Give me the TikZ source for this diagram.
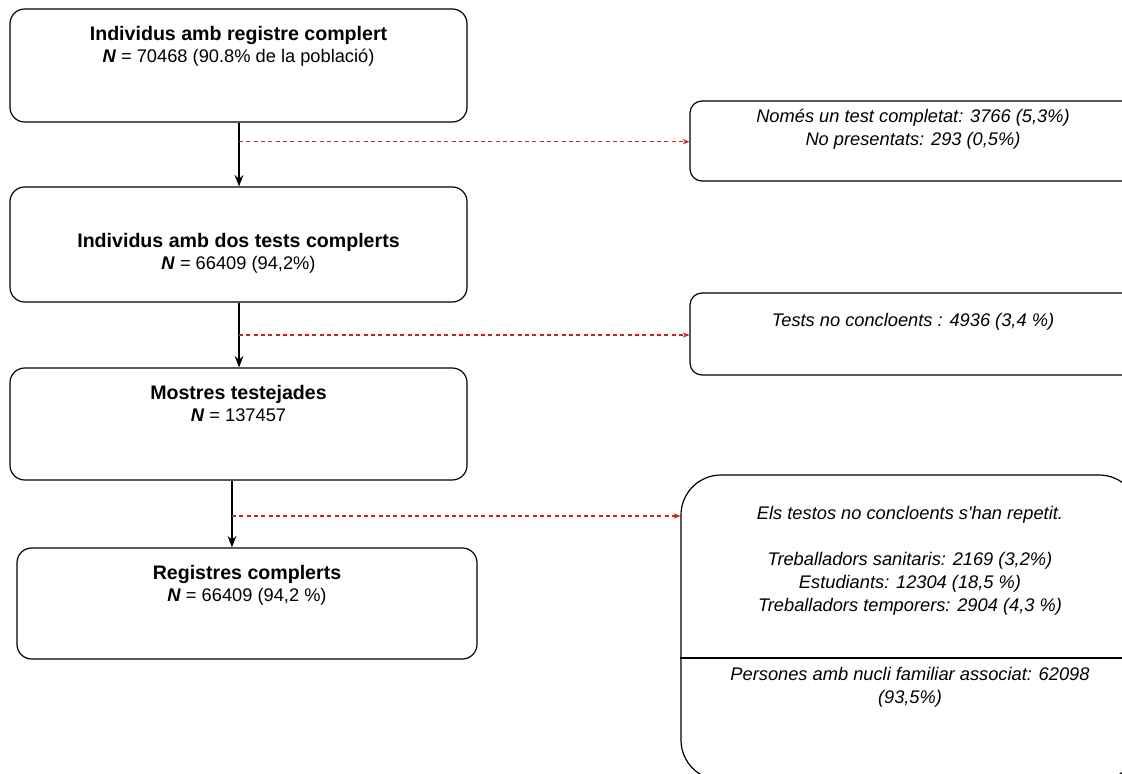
\documentclass[tikz,border=0pt]{standalone}
\usepackage{fontspec}
\setmainfont{Liberation Sans}
\usetikzlibrary{positioning,arrows.meta,calc}
\definecolor{exclred}{RGB}{204,34,34}
\begin{document}
\begin{tikzpicture}[x=0.75pt,y=-0.75pt,
  box/.style={draw,line width=0.9pt,rounded corners=11pt,inner sep=0pt},
  sidebox/.style={draw,line width=0.9pt,rounded corners=9pt,inner sep=0pt},
  stage/.style={font=\fontsize{13.7}{16.5}\selectfont,align=center,inner sep=0pt},
  note/.style={font=\fontsize{13.7}{17.25}\selectfont\itshape,align=center,inner sep=0pt},
  flow/.style={line width=1.5pt,-{Stealth[length=8.5pt,width=6.5pt]}},
  excl/.style={exclred,line width=0.9pt,dash pattern=on 3pt off 2.5pt,-{Stealth[length=5pt,width=4pt]}}]
\useasboundingbox (0,0) rectangle (1122,774);
\clip (0,0) rectangle (1122,774);
% Draw the main boxes
\node[box,minimum width=457*0.75pt,minimum height=113*0.75pt] (reg) at (238.5,65.5) {};
\node[box,minimum width=457*0.75pt,minimum height=115*0.75pt] (dos) at (238.5,244.5) {};
\node[box,minimum width=457*0.75pt,minimum height=112*0.75pt] (mostres) at (238.5,424) {};
\node[box,minimum width=460*0.75pt,minimum height=111*0.75pt] (registres) at (247,603.5) {};
% Draw the texts of the main boxes
\node[stage,below=13.5pt of reg.north] (regtxt) {{\fontsize{14.7}{16.5}\selectfont\bfseries Individus amb registre complert}\\\textbf{\textit{N}} = 70468 (90.8\% de la població)};
\node[stage,below=35pt of dos.north] (dostxt) {{\fontsize{14.7}{16.5}\selectfont\bfseries Individus amb dos tests complerts}\\\textbf{\textit{N}} = 66409 (94,2\%)};
\node[stage,below=13.5pt of mostres.north] (mostrestxt) {{\fontsize{14.7}{16.5}\selectfont\bfseries Mostres testejades}\\\textbf{\textit{N}} = 137457};
\node[stage,below=13.5pt of registres.north] (registrestxt) {{\fontsize{14.7}{16.5}\selectfont\bfseries Registres complerts}\\\textbf{\textit{N}} = 66409 (94,2 \%)};
% Draw the side boxes
\node[sidebox,minimum width=446*0.75pt,minimum height=80*0.75pt] (excl1) at (913,141) {};
\node[sidebox,minimum width=446*0.75pt,minimum height=82*0.75pt] (excl2) at (913,334) {};
\node[draw,line width=0.9pt,rounded corners=30pt,inner sep=0pt,minimum width=458*0.75pt,minimum height=305*0.75pt] (rep) at (910,627.5) {};
\coordinate (split) at (910,658);
\draw[line width=0.9pt] (split -| rep.west) -- (split -| rep.east);
% Draw the texts of the side boxes
\node[note,below=6.4pt of excl1.north] (excl1txt) {Només un test completat: 3766 (5,3\%)\\No presentats: 293 (0,5\%)};
\node[note,below=15.4pt of excl2.north] (excl2txt) {Tests no concloents : 4936 (3,4 \%)};
\node[note,below=23.6pt of rep.north] (reptxt) {Els testos no concloents s\textquotesingle han repetit.\\[17.25pt]Treballadors sanitaris: 2169 (3,2\%)\\Estudiants: 12304 (18,5 \%)\\Treballadors temporers: 2904 (4,3 \%)};
\node[note,below=6.4pt of split] (nuclitxt) {Persones amb nucli familiar associat: 62098\\(93,5\%)};
% Draw the flow arrows
\draw[flow] ([xshift=0.4pt]reg.south) coordinate (m1) -- (m1 |- dos.north) coordinate (r1);
\draw[flow] ([xshift=0.4pt]dos.south) coordinate (m2) -- (m2 |- mostres.north) coordinate (r2);
\draw[flow] ([xshift=-4.9pt]mostres.south) coordinate (m3) -- (m3 |- registres.north) coordinate (r3);
% Draw the exclusion arrows
\coordinate (e1) at ($(m1)!0.3!(r1)$);
\coordinate (e2) at ($(m2)!0.5!(r2)$);
\coordinate (e3) at ($(m3)!0.53!(r3)$);
\draw[excl] (e1) -- (e1 -| excl1.west);
\draw[excl] (e2) -- (e2 -| excl2.west);
\draw[excl] (e3) -- (e3 -| rep.west);
\end{tikzpicture}
\end{document}
